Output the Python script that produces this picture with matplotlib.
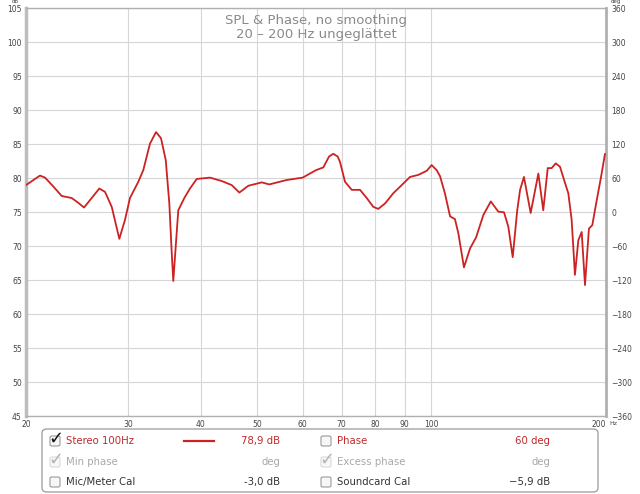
import numpy as np
import matplotlib
matplotlib.use("Agg")
import matplotlib.pyplot as plt
from matplotlib.patches import FancyBboxPatch
from matplotlib.lines import Line2D

# SPL curve (Hz, dB)
freq = [20.0, 21.14, 21.57, 22.29, 23.04, 23.98, 24.61, 25.18, 25.79, 26.76,
        27.37, 28.11, 28.97, 29.63, 30.22, 31.24, 31.86, 32.72, 33.51, 34.18,
        34.83, 35.33, 35.67, 35.89, 36.24, 36.61, 37.50, 38.35, 39.39, 41.52,
        43.50, 45.26, 46.65, 48.34, 50.98, 52.54, 56.30, 59.99, 63.25, 65.11,
        66.60, 67.74, 68.94, 69.57, 70.96, 72.88, 75.32, 77.35, 79.40, 80.99,
        83.18, 85.96, 88.88, 91.86, 94.93, 98.15, 100.1, 102.1, 103.5, 105.5,
        107.7, 109.8, 111.3, 113.8, 116.6, 119.4, 122.9, 126.6, 130.4, 133.4,
        135.7, 138.1, 140.6, 142.2, 144.4, 148.3, 152.9, 155.9, 158.7, 161.2,
        163.8, 166.6, 170.0, 172.2, 174.5, 176.8, 179.2, 181.6, 184.0, 186.9,
        189.4, 192.8, 196.1, 199.2]
spl = [79.0, 80.4, 80.1, 78.8, 77.4, 77.1, 76.4, 75.7, 76.8, 78.5,
       78.0, 75.8, 71.1, 73.9, 77.1, 79.5, 81.2, 85.1, 86.8, 85.9,
       82.7, 76.3, 69.0, 64.9, 70.0, 75.3, 77.1, 78.5, 79.9, 80.1,
       79.6, 79.0, 77.9, 78.9, 79.4, 79.1, 79.75, 80.1, 81.2, 81.6,
       83.2, 83.6, 83.2, 82.4, 79.5, 78.3, 78.3, 77.1, 75.8, 75.5,
       76.3, 77.8, 79.0, 80.2, 80.5, 81.1, 81.95, 81.2, 80.3, 77.8,
       74.4, 74.0, 71.9, 66.9, 69.7, 71.3, 74.6, 76.6, 75.1, 75.0,
       72.9, 68.4, 75.3, 78.3, 80.2, 74.9, 80.7, 75.3, 81.5, 81.5,
       82.2, 81.7, 79.3, 77.8, 73.9, 65.8, 70.9, 72.1, 64.3, 72.6,
       73.1, 76.8, 80.2, 83.6]

x_ticks = [20, 30, 40, 50, 60, 70, 80, 90, 100, 200]
db_ticks = list(range(45, 106, 5))
deg_ticks = list(range(-360, 361, 60))

W, H = 640, 494
fig = plt.figure(figsize=(W / 100, H / 100), dpi=100)
fig.patch.set_facecolor("white")


def fx(px):
    return px / W


def fy(py):
    return 1 - py / H


left, right, top, bottom = 26, 606, 8.3, 416.3
ax = fig.add_axes([fx(left), fy(bottom), fx(right - left), (bottom - top) / H])
ax.set_xscale("log")
ax.set_xlim(20, 200)
ax.set_ylim(45, 105)

ax.plot(freq, spl, color="#cc2222", lw=1.3, solid_joinstyle="round",
        solid_capstyle="round", zorder=3)

ax.set_yticks(db_ticks)
ax.set_xticks(x_ticks)
ax.set_xticklabels([str(t) for t in x_ticks])
ax.xaxis.set_minor_locator(matplotlib.ticker.NullLocator())
ax.tick_params(axis="both", length=0, labelsize=5.5, labelcolor="#444")
ax.tick_params(axis="y", pad=3)
ax.tick_params(axis="x", pad=3)
xl = ax.get_xticklabels()
xl[-1].set_horizontalalignment("right")
ax.grid(True, color="#d6d6d6", lw=0.8)
for s in ["top", "bottom", "right"]:
    ax.spines[s].set_color("#b0b0b0")
    ax.spines[s].set_linewidth(1.0)
ax.spines["left"].set_color("#bdbdbd")
ax.spines["left"].set_linewidth(2.5)
ax.spines["right"].set_linewidth(2.0)

ax2 = ax.twinx()
ax2.set_ylim(-360, 360)
ax2.set_yticks(deg_ticks)
ax2.tick_params(axis="y", length=0, labelsize=5.5, labelcolor="#444", pad=4)
for s in ax2.spines.values():
    s.set_visible(False)

ax.text(0.5, 0.985, "SPL & Phase, no smoothing\n20 \u2013 200 Hz ungeglättet",
        transform=ax.transAxes, ha="center", va="top", fontsize=9.5,
        color="#8a8a8a", linespacing=1.05)

fig.text(fx(15), fy(1.5), "dB", fontsize=4, color="#444", ha="center", va="center")
fig.text(fx(616), fy(1.5), "deg", fontsize=4, color="#444", ha="center", va="center")
fig.text(fx(609), fy(423.5), "Hz", fontsize=4.5, color="#444", ha="left", va="center")

# legend panel
box = FancyBboxPatch((fx(42), fy(492)), fx(556), (492 - 429) / H,
                     boxstyle="round,pad=0,rounding_size=0.008",
                     transform=fig.transFigure, facecolor="white",
                     edgecolor="#9a9a9a", lw=0.9, zorder=1)
fig.patches.append(box)

red = "#c0282a"
gray = "#a8a8a8"
dark = "#333333"
rows = [441, 462, 482]
row_text = [
    [("Stereo 100Hz", red, "78,9 dB", True, "#111"), ("Phase", red, "60 deg", False, "#111")],
    [("Min phase", gray, "deg", True, "#b5b5b5"), ("Excess phase", gray, "deg", True, "#b5b5b5")],
    [("Mic/Meter Cal", dark, "-3,0 dB", False, None), ("Soundcard Cal", dark, "\u22125,9 dB", False, None)],
]
col_box = [55, 326]
col_val = [280, 550]

for r, y in enumerate(rows):
    for c in range(2):
        label, color, val, checked, chk_color = row_text[r][c]
        bx = col_box[c]
        edge = "#d5d5d5" if r == 1 else "#8c8c8c"
        cb = FancyBboxPatch((fx(bx - 5), fy(y + 5)), fx(10), 10 / H,
                            boxstyle="round,pad=0,rounding_size=0.003",
                            transform=fig.transFigure, facecolor="#f7f7f7",
                            edgecolor=edge, lw=0.7, zorder=2)
        fig.patches.append(cb)
        if checked:
            fig.text(fx(bx + 1), fy(y - 2), "\u2713", fontsize=13, color=chk_color,
                     ha="center", va="center", zorder=3)
        fig.text(fx(bx + 11), fy(y), label, fontsize=7.3, color=color,
                 ha="left", va="center")
        fig.text(fx(col_val[c]), fy(y), val, fontsize=7.3, color=color,
                 ha="right", va="center")

fig.lines.append(Line2D([fx(184), fx(214)], [fy(441), fy(441)],
                        transform=fig.transFigure, color="#cc2222", lw=1.6))

fig.savefig("out.png", dpi=100, facecolor="white")
